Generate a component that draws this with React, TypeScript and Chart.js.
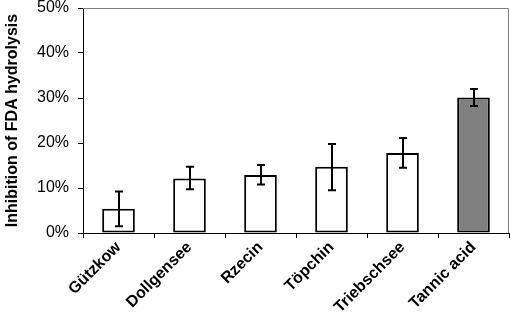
import React, { useEffect, useRef } from "react";
import { Chart, registerables } from "chart.js";

Chart.register(...registerables);

const categories = ["Gützkow", "Dollgensee", "Rzecin", "Töpchin", "Triebschsee", "Tannic acid"];
const values = [5.4, 12.1, 12.9, 14.7, 17.8, 30.1];
const errLow = [1.5, 9.7, 10.8, 9.5, 14.5, 28.2];
const errHigh = [9.2, 14.7, 15.1, 19.8, 21.1, 32.0];
const barFills = ["#ffffff", "#ffffff", "#ffffff", "#ffffff", "#ffffff", "#808080"];
const yTicks = [0, 10, 20, 30, 40, 50];

const FONT = "'Liberation Sans', Arial, sans-serif";

const frameAndErrors = {
  id: "frameAndErrors",
  beforeDatasetsDraw(chart: any) {
    const { ctx, chartArea } = chart;
    ctx.save();
    ctx.strokeStyle = "#808080";
    ctx.lineWidth = 1;
    ctx.beginPath();
    ctx.moveTo(chartArea.left, chartArea.top + 0.5);
    ctx.lineTo(chartArea.right - 0.5, chartArea.top + 0.5);
    ctx.lineTo(chartArea.right - 0.5, chartArea.bottom);
    ctx.stroke();
    ctx.restore();
  },
  afterDatasetsDraw(chart: any) {
    const { ctx } = chart;
    const meta = chart.getDatasetMeta(0);
    const ys = chart.scales.y;
    ctx.save();
    ctx.strokeStyle = "#000";
    ctx.lineWidth = 2;
    meta.data.forEach((bar: any, i: number) => {
      const x = Math.round(bar.x);
      const yl = ys.getPixelForValue(errLow[i]);
      const yh = ys.getPixelForValue(errHigh[i]);
      ctx.beginPath();
      ctx.moveTo(x, yl);
      ctx.lineTo(x, yh);
      ctx.moveTo(x - 4, yl);
      ctx.lineTo(x + 4, yl);
      ctx.moveTo(x - 4, yh);
      ctx.lineTo(x + 4, yh);
      ctx.stroke();
    });
    ctx.restore();
  },
};

export default function App() {
  const ref = useRef<HTMLCanvasElement>(null);
  useEffect(() => {
    if (!ref.current) return;
    const chart = new Chart(ref.current, {
      type: "bar",
      data: {
        labels: categories,
        datasets: [
          {
            data: values,
            backgroundColor: barFills,
            borderColor: "#000",
            borderWidth: 2,
            borderSkipped: false,
            barPercentage: 0.46,
            categoryPercentage: 1,
          },
        ],
      },
      options: {
        animation: false,
        responsive: false,
        maintainAspectRatio: false,
        layout: { padding: { top: 0, right: 1, left: 3, bottom: 0 } },
        plugins: { legend: { display: false }, tooltip: { enabled: false } },
        scales: {
          x: {
            offset: true,
            grid: { offset: true, drawOnChartArea: false, drawTicks: true, tickLength: 5, color: "#000" },
            border: { color: "#000", width: 1 },
            ticks: {
              color: "#000",
              font: { family: FONT, size: 16, weight: "bold" },
              maxRotation: 45,
              minRotation: 45,
              padding: 0,
              autoSkip: false,
            },
            afterFit: (s: any) => {
              s.height = 85;
              s.paddingLeft = 0;
              s.paddingRight = 0;
            },
          },
          y: {
            min: 0,
            max: 50,
            afterBuildTicks: (s: any) => {
              s.ticks = yTicks.map((v) => ({ value: v }));
            },
            grid: { drawOnChartArea: false, drawTicks: true, tickLength: 5, color: "#000" },
            border: { color: "#000", width: 1 },
            ticks: {
              color: "#000",
              font: { family: FONT, size: 16 },
              padding: 9,
              callback: (v: any) => v + "%",
            },
            title: {
              display: true,
              text: "Inhibition of FDA hydrolysis",
              color: "#000",
              font: { family: FONT, size: 16, weight: "bold" },
              padding: { top: 0, bottom: 0 },
            },
            afterFit: (s: any) => {
              s.width = 80;
              s.paddingTop = 8;
              s.paddingBottom = 0;
            },
          },
        },
      },
      plugins: [frameAndErrors],
    });
    return () => chart.destroy();
  }, []);
  return (
    <div style={{ position: "fixed", left: 0, top: 0, width: 510, height: 318, background: "#fff" }}>
      <canvas ref={ref} width={510} height={318} style={{ display: "block" }} />
    </div>
  );
}
